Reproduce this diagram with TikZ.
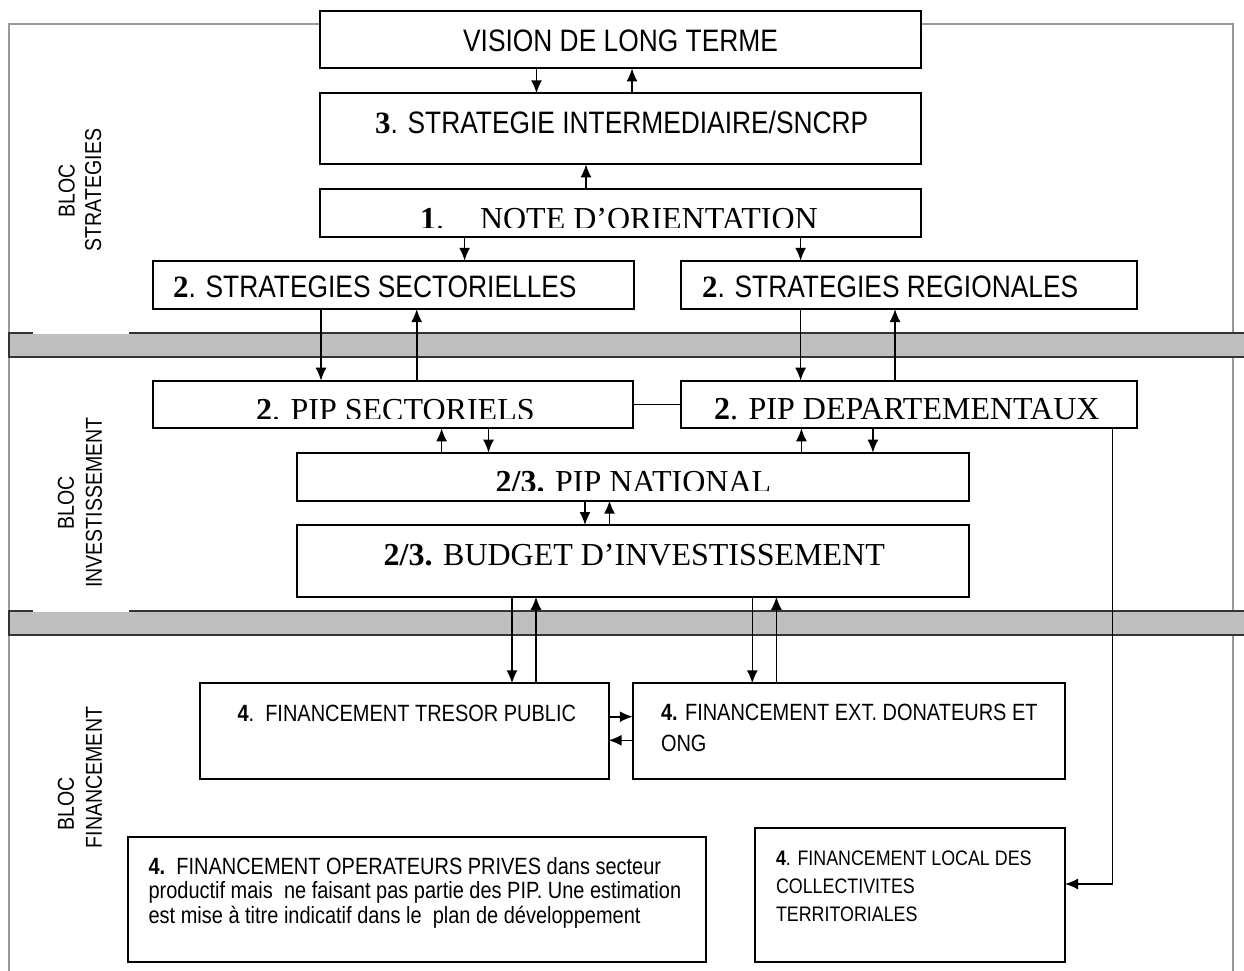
\documentclass[tikz,border=0pt]{standalone}
\usepackage{fontspec}
\setmainfont{Liberation Serif}
\newfontfamily\narrowsans{Liberation Sans}[FakeStretch=0.85]
\usetikzlibrary{arrows.meta}

\newcommand\fsBig{\narrowsans\fontsize{31}{37}\selectfont}
\newcommand\fsSerif{\rmfamily\fontsize{32}{37}\selectfont}
\newcommand\fsSmall{\narrowsans\fontsize{23.5}{28}\selectfont}
\newcommand\fsLocal{\narrowsans\fontsize{21}{26}\selectfont}
\newcommand\fsLabel{\narrowsans\fontsize{23}{28}\selectfont}

\begin{document}
\begin{tikzpicture}[x=1pt,y=-1pt,
  frame/.style={draw=black!40, line width=2pt},
  bar/.style={draw=black!80, fill=black!25, line width=2pt},
  gap/.style={draw=white, line width=1.4pt},
  box/.style={draw=black, fill=white, line width=2pt, inner sep=0pt, outer sep=0pt},
  txt/.style={inner sep=0pt, outer sep=0pt, anchor=base west},
  lbl/.style={inner sep=0pt, rotate=90, font=\fsLabel},
  link/.style={draw=black, line width=1.6pt},
  arr/.style={link, -{Latex[length=13pt,width=11pt]}}]
\useasboundingbox (0,0) rectangle (1244,971);

% outer frame and the two separating bars
\draw[frame] (8.5,990) -- (8.5,24) -- (1233,24) -- (1233,990);
\draw[bar] (8.5,333) rectangle (1262,357);
\draw[bar] (8.5,611) rectangle (1262,635);
\draw[gap] (33,333) -- (129,333);
\draw[gap] (33,611) -- (129,611);

% block labels
\node[lbl] (lblSa) at (66.7,191) {BLOC};
\node[lbl] (lblSb) at (93.3,190) {STRATEGIES};
\node[lbl] (lblIa) at (66,502.5) {BLOC};
\node[lbl] (lblIb) at (94,502.5) {INVESTISSEMENT};
\node[lbl] (lblFa) at (66,804) {BLOC};
\node[lbl] (lblFb) at (94,777.5) {FINANCEMENT};

% boxes
\node[box, minimum width=601pt, minimum height=57.3pt] (vision) at (620.5,39.7) {};
\node[box, minimum width=601pt, minimum height=71pt] (strat) at (620.5,128.8) {};
\node[box, minimum width=601pt, minimum height=47.7pt] (note) at (620.5,212.9) {};
\node[box, minimum width=481.3pt, minimum height=48.3pt] (ss) at (393.4,284.9) {};
\node[box, minimum width=455.7pt, minimum height=48.3pt] (sr) at (908.9,284.9) {};
\node[box, minimum width=480pt, minimum height=47.6pt] (pips) at (392.7,404.5) {};
\node[box, minimum width=455.7pt, minimum height=47.6pt] (pipd) at (908.9,404.5) {};
\node[box, minimum width=672.5pt, minimum height=48pt] (nat) at (632.8,476.7) {};
\node[box, minimum width=672.5pt, minimum height=71.7pt] (bud) at (632.8,560.9) {};
\node[box, minimum width=408.5pt, minimum height=95.7pt] (tp) at (404.3,731.2) {};
\node[box, minimum width=432.3pt, minimum height=95.7pt] (ext) at (848.9,731.2) {};
\node[box, minimum width=577.7pt, minimum height=125.6pt] (priv) at (417.2,899.5) {};
\node[box, minimum width=310pt, minimum height=134.6pt] (loc) at (910,895) {};

% box texts
\node[txt, font=\fsBig, anchor=base] (visionT) at (620.5,51.7) {VISION DE LONG TERME};
\node[txt, font=\fsBig] (stratT) at (375,133.3) {{\rmfamily\bfseries 3}. STRATEGIE INTERMEDIAIRE/SNCRP};
\begin{scope}
  \clip (322,191) rectangle (919,227.5);
  \node[txt, font=\fsSerif] (noteT) at (420,229.5) {\textbf{1}.\hspace{36pt}NOTE D’ORIENTATION};
\end{scope}
\node[txt, font=\fsBig] (ssT) at (173,297.7) {{\rmfamily\bfseries 2}. STRATEGIES SECTORIELLES};
\node[txt, font=\fsBig] (srT) at (702,297.7) {{\rmfamily\bfseries 2}. STRATEGIES REGIONALES};
\begin{scope}
  \clip (154,382) rectangle (631,418.5);
  \node[txt, font=\fsSerif] (pipsT) at (256,420.5) {\textbf{2}. PIP SECTORIELS};
\end{scope}
\node[txt, font=\fsSerif] (pipdT) at (714,419.3) {\textbf{2}. PIP DEPARTEMENTAUX};
\begin{scope}
  \clip (298,454) rectangle (967,490);
  \node[txt, font=\fsSerif] (natT) at (495.6,492) {\textbf{2/3.} PIP NATIONAL};
\end{scope}
\node[txt, font=\fsSerif] (budT) at (383.6,565.7) {\textbf{2/3.} BUDGET D’INVESTISSEMENT};

\node[txt, font=\fsSmall] (tpT) at (237.5,721) {\textbf{4}.\ \ FINANCEMENT TRESOR PUBLIC};
\node[txt, font=\fsSmall] (extTa) at (661,720) {\textbf{4.} FINANCEMENT EXT. DONATEURS ET};
\node[txt, font=\fsSmall] (extTb) at (661,751) {ONG};
\node[txt, font=\fsSmall] (privTa) at (148.6,874) {\textbf{4.}\ \ FINANCEMENT OPERATEURS PRIVES dans secteur};
\node[txt, font=\fsSmall] (privTb) at (148.6,898.5) {productif mais\ \ ne faisant pas partie des PIP. Une estimation};
\node[txt, font=\fsSmall] (privTc) at (148.6,923) {est mise à titre indicatif dans le\ \ plan de développement};
\node[txt, font=\fsLocal] (locTa) at (776,865) {\textbf{4}. FINANCEMENT LOCAL DES};
\node[txt, font=\fsLocal] (locTb) at (776,893.3) {COLLECTIVITES};
\node[txt, font=\fsLocal] (locTc) at (776,921.7) {TERRITORIALES};

% connectors: strategy block
\draw[arr] (vision.south -| 536.5,0) -- (strat.north -| 536.5,0);
\draw[arr] (strat.north -| 632,0) -- (vision.south -| 632,0);
\draw[arr] (note.north -| 586,0) -- (strat.south -| 586,0);
\draw[arr] (note.south -| 464.6,0) -- (ss.north -| 464.6,0);
\draw[arr] (note.south -| 800.6,0) -- (sr.north -| 800.6,0);

% connectors: strategies to investment programmes
\draw[arr] (ss.south -| 321,0) -- (pips.north -| 321,0);
\draw[arr] (pips.north -| 416.7,0) -- (ss.south -| 416.7,0);
\draw[arr] (sr.south -| 800.6,0) -- (pipd.north -| 800.6,0);
\draw[arr] (pipd.north -| 895,0) -- (sr.south -| 895,0);
\draw[link] (pips.east) -- (pipd.west);

% connectors: investment block
\draw[arr] (nat.north -| 441.6,0) -- (pips.south -| 441.6,0);
\draw[arr] (pips.south -| 488.5,0) -- (nat.north -| 488.5,0);
\draw[arr] (nat.north -| 801.4,0) -- (pipd.south -| 801.4,0);
\draw[arr] (pipd.south -| 872.9,0) -- (nat.north -| 872.9,0);
\draw[arr] (nat.south -| 585,0) -- (bud.north -| 585,0);
\draw[arr] (bud.north -| 609.5,0) -- (nat.south -| 609.5,0);

% connectors: financing block
\draw[arr] (bud.south -| 512,0) -- (tp.north -| 512,0);
\draw[arr] (tp.north -| 536,0) -- (bud.south -| 536,0);
\draw[arr] (bud.south -| 752.3,0) -- (ext.north -| 752.3,0);
\draw[arr] (ext.north -| 776.4,0) -- (bud.south -| 776.4,0);
\draw[arr] (tp.east |- 0,716.7) -- (ext.west |- 0,716.7);
\draw[arr] (ext.west |- 0,740.3) -- (tp.east |- 0,740.3);
\draw[arr] (pipd.south -| 1112.3,0) |- (loc.east |- 0,884);
\end{tikzpicture}
\end{document}
